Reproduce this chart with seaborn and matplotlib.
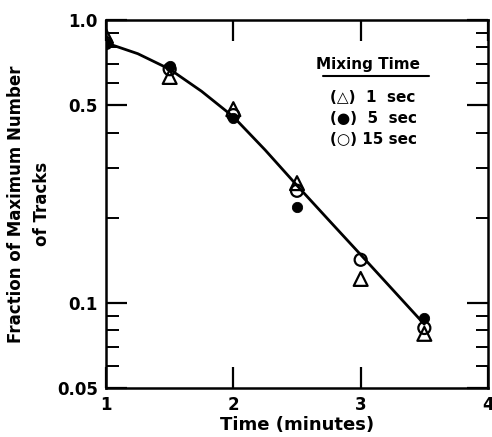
import numpy as np
import pandas as pd
import matplotlib
matplotlib.use("Agg")
import matplotlib.pyplot as plt
import seaborn as sns
from matplotlib.ticker import FixedLocator, NullFormatter

# data (filled point at 3 min is hidden under the open circle)
time = [1.0, 1.5, 2.0, 2.5, 3.0, 3.5]
frac_1s = [0.878, 0.629, 0.484, 0.265, 0.1215, 0.0777]
frac_5s = [0.829, 0.688, 0.450, 0.218, np.nan, 0.0885]
frac_15s = [0.829, 0.670, 0.461, 0.249, 0.142, 0.0815]

# smooth curve drawn through the points
curve_t = [1.0, 1.25, 1.5, 1.75, 2.0, 2.25, 2.5, 2.75, 3.0, 3.25, 3.5]
curve_f = [0.83, 0.760, 0.670, 0.560, 0.455, 0.347, 0.260, 0.196, 0.148, 0.1115, 0.084]

y_ticks = [0.05, 0.1, 0.5, 1.0]
y_ticklabels = ["0.05", "0.1", "0.5", "1.0"]
x_ticks = [1, 2, 3, 4]

legend_title = "Mixing Time"
legend_rows = ["(\u25b3)  1  sec", "(\u25cf)  5  sec", "(\u25cb) 15 sec"]

df = pd.DataFrame({
    "time": time * 3,
    "fraction": frac_1s + frac_5s + frac_15s,
    "mixing": ["1 sec"] * 6 + ["5 sec"] * 6 + ["15 sec"] * 6,
}).dropna()
curve = pd.DataFrame({"time": curve_t, "fraction": curve_f})

sns.set_style("ticks")
plt.rcParams["font.family"] = ["DejaVu Sans"]
plt.rcParams["font.weight"] = "bold"
for key in ["text.color", "axes.labelcolor", "xtick.color", "ytick.color", "axes.edgecolor"]:
    plt.rcParams[key] = "black"

fig = plt.figure(figsize=(4.92, 4.37), dpi=100)
ax = fig.add_axes([106 / 492, 1 - 388 / 437, 382 / 492, 368 / 437])

sns.lineplot(data=curve, x="time", y="fraction", color="black", linewidth=2, ax=ax)

# filled circles first, open symbols on top
sns.scatterplot(data=df[df.mixing == "5 sec"], x="time", y="fraction", marker="o",
                color="black", edgecolor="black", s=55, ax=ax, zorder=3)
sns.scatterplot(data=df[df.mixing == "15 sec"], x="time", y="fraction", marker="o",
                facecolor="none", edgecolor="black", linewidth=1.6, s=75, ax=ax, zorder=4)
sns.scatterplot(data=df[df.mixing == "1 sec"], x="time", y="fraction", marker="^",
                facecolor="none", edgecolor="black", linewidth=1.6, s=100, ax=ax, zorder=5)

ax.set_yscale("log")
ax.set_xlim(1, 4)
ax.set_ylim(0.05, 1.0)

ax.set_xticks(x_ticks)
ax.set_xticklabels([str(t) for t in x_ticks], fontsize=12, fontweight="bold")
ax.yaxis.set_major_locator(FixedLocator(y_ticks))
ax.set_yticklabels(y_ticklabels, fontsize=12, fontweight="bold")
minor = [0.06, 0.07, 0.08, 0.09, 0.2, 0.3, 0.4, 0.6, 0.7, 0.8, 0.9]
ax.yaxis.set_minor_locator(FixedLocator(minor))
ax.yaxis.set_minor_formatter(NullFormatter())

ax.tick_params(which="major", direction="in", length=15, width=1.6,
               top=True, right=True, pad=6)
ax.tick_params(which="minor", direction="in", length=9, width=1.4,
               top=False, right=True)
for sp in ax.spines.values():
    sp.set_linewidth(1.8)

ax.set_xlabel("Time (minutes)", fontsize=13, fontweight="bold", labelpad=1)
ax.set_ylabel("Fraction of Maximum Number\nof Tracks", fontsize=12,
              fontweight="bold", labelpad=4, linespacing=1.6)

# hand-lettered style legend
ax.text(0.686, 0.878, legend_title, transform=ax.transAxes, fontsize=11,
        fontweight="bold", ha="center", va="center")
ax.plot([0.567, 0.845], [0.848, 0.848], transform=ax.transAxes, color="black",
        linewidth=1.5)
for i, row in enumerate(legend_rows):
    ax.text(0.586, 0.79 - i * 0.058, row, transform=ax.transAxes, fontsize=11,
            fontweight="bold", ha="left", va="center")

fig.savefig("out.png", dpi=100)
